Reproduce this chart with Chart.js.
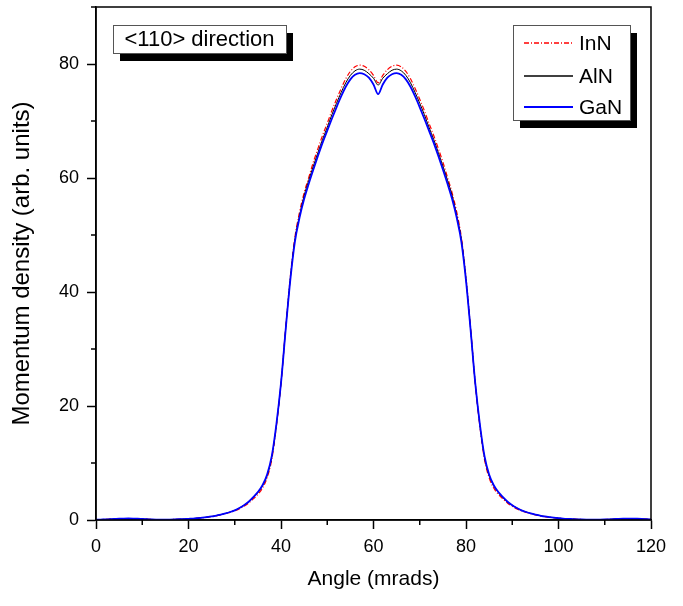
<!DOCTYPE html>
<html>
<head>
<meta charset="utf-8">
<script src="https://cdn.jsdelivr.net/npm/chart.js@4.4.1/dist/chart.umd.min.js"></script>
<style>
html,body{margin:0;padding:0;background:#fff;}
canvas{display:block;}
</style>
</head>
<body>
<canvas id="c" width="683" height="606"></canvas>
<script>
// ---- data ----
const angles = [0,1,2,3,4,5,6,7,8,9,10,11,12,13,14,15,16,17,18,19,20,21,22,23,24,25,26,27,28,29,30,31,32,33,34,35,36,37,38,39,40,41,42,43,44,45,46,47,48,49,50,51,52,53,54,55,56,57,58,59,60,61,62,63,64,65,66,67,68,69,70,71,72,73,74,75,76,77,78,79,80,81,82,83,84,85,86,87,88,89,90,91,92,93,94,95,96,97,98,99,100,101,102,103,104,105,106,107,108,109,110,111,112,113,114,115,116,117,118,119,120];

const inN = [0.05,0.08,0.1,0.14,0.18,0.22,0.25,0.26,0.25,0.22,
0.18,0.14,0.1,0.08,0.07,0.07,0.08,0.1,0.13,0.17,
0.21,0.25,0.32,0.4,0.5,0.6,0.73,0.9,1.1,1.35,
1.6,1.95,2.4,2.95,3.7,4.5,5.6,7.4,10.6,16.4,
24.0,33.6,42.6,49.6,54.0,57.4,60.1,62.8,65.2,67.5,
69.6,71.8,73.8,75.7,77.4,78.7,79.5,79.8,79.6,79.0,
78.0,76.7,78.0,79.0,79.6,79.8,79.5,78.7,77.4,75.7,
73.8,71.8,69.6,67.5,65.2,62.8,60.1,57.4,54.0,49.6,
42.6,33.6,24.0,16.4,10.6,7.4,5.6,4.5,3.7,2.95,
2.4,1.95,1.6,1.35,1.1,0.9,0.73,0.6,0.5,0.4,
0.32,0.25,0.2,0.16,0.12,0.09,0.07,0.06,0.06,0.07,
0.09,0.12,0.16,0.2,0.23,0.25,0.25,0.23,0.19,0.14,
0.1];

const alN = [0.05,0.08,0.1,0.14,0.18,0.22,0.25,0.26,0.25,0.22,
0.18,0.14,0.1,0.08,0.07,0.07,0.08,0.1,0.13,0.17,
0.21,0.25,0.32,0.4,0.5,0.62,0.78,0.95,1.15,1.4,
1.7,2.1,2.6,3.1,3.9,4.8,6.0,7.8,11.0,16.6,
24.0,33.45,42.3,49.2,53.4,56.9,59.6,62.1,64.5,66.8,
68.9,71.1,73.1,75.0,76.7,78.0,78.8,79.1,78.9,78.3,
77.5,76.3,77.5,78.3,78.9,79.1,78.8,78.0,76.7,75.0,
73.1,71.1,68.9,66.8,64.5,62.1,59.6,56.9,53.4,49.2,
42.3,33.45,24.0,16.6,11.0,7.8,6.0,4.8,3.9,3.1,
2.6,2.1,1.7,1.4,1.15,0.95,0.78,0.62,0.5,0.4,
0.32,0.25,0.2,0.16,0.12,0.09,0.07,0.06,0.06,0.07,
0.09,0.12,0.16,0.2,0.23,0.25,0.25,0.23,0.19,0.14,
0.1];

const gaN = [0.05,0.08,0.1,0.14,0.18,0.22,0.25,0.26,0.25,0.22,
0.18,0.14,0.1,0.08,0.07,0.07,0.08,0.1,0.13,0.17,
0.21,0.25,0.32,0.4,0.5,0.62,0.78,0.95,1.15,1.4,
1.7,2.1,2.6,3.2,4.0,4.9,6.1,8.0,11.2,16.8,
24.0,33.3,42.0,48.8,53.0,56.3,59.0,61.5,63.9,66.2,
68.3,70.4,72.4,74.3,76.0,77.3,78.1,78.4,78.2,77.6,
76.4,74.7,76.4,77.6,78.2,78.4,78.1,77.3,76.0,74.3,
72.4,70.4,68.3,66.2,63.9,61.5,59.0,56.3,53.0,48.8,
42.0,33.3,24.0,16.8,11.2,8.0,6.1,4.9,4.0,3.2,
2.6,2.1,1.7,1.4,1.15,0.95,0.78,0.62,0.5,0.4,
0.32,0.25,0.2,0.16,0.12,0.09,0.07,0.06,0.06,0.07,
0.09,0.12,0.16,0.2,0.23,0.25,0.25,0.23,0.19,0.14,
0.1];

const seriesNames = ['InN', 'AlN', 'GaN'];
const xTitle = 'Angle (mrads)';
const yTitle = 'Momentum density (arb. units)';
const boxLabel = '<110> direction';
const xMinorTicks = [10, 30, 50, 70, 90, 110];
const yMinorTicks = [10, 30, 50, 70, 90];

// ---- chart ----
const FONT = "'Liberation Sans', Arial, Helvetica, sans-serif";
Chart.defaults.font.family = FONT;
Chart.defaults.color = '#000';

const toPts = arr => angles.map((a, i) => ({x: a, y: arr[i]}));

const decor = {
  id: 'decor',
  afterDatasetsDraw(chart) {
    const {ctx, chartArea: ca, scales} = chart;
    ctx.save();
    ctx.strokeStyle = '#000';
    ctx.lineWidth = 1.5;
    ctx.strokeRect(ca.left, ca.top, ca.right - ca.left, ca.bottom - ca.top);
    ctx.beginPath();
    xMinorTicks.forEach(v => {
      const p = scales.x.getPixelForValue(v);
      ctx.moveTo(p, ca.bottom); ctx.lineTo(p, ca.bottom + 5);
    });
    yMinorTicks.forEach(v => {
      const p = scales.y.getPixelForValue(v);
      ctx.moveTo(ca.left - 5, p); ctx.lineTo(ca.left, p);
    });
    ctx.stroke();
    ctx.restore();
  },
  afterDraw(chart) {
    const ctx = chart.ctx;
    ctx.save();
    // direction box
    const bx = 113, by = 25, bw = 173, bh = 28;
    ctx.fillStyle = '#000';
    ctx.fillRect(bx + 7, by + 8, bw, bh);
    ctx.fillStyle = '#fff';
    ctx.fillRect(bx, by, bw, bh);
    ctx.strokeStyle = '#555';
    ctx.lineWidth = 1;
    ctx.strokeRect(bx + 0.5, by + 0.5, bw, bh);
    ctx.fillStyle = '#000';
    ctx.font = '22px ' + FONT;
    ctx.textAlign = 'center';
    ctx.textBaseline = 'middle';
    ctx.fillText(boxLabel, bx + bw / 2, by + bh / 2 + 1);

    // legend box
    const lx = 513, ly = 25, lw = 117, lh = 95;
    ctx.fillStyle = '#000';
    ctx.fillRect(lx + 7, ly + 8, lw, lh);
    ctx.fillStyle = '#fff';
    ctx.fillRect(lx, ly, lw, lh);
    ctx.strokeStyle = '#555';
    ctx.strokeRect(lx + 0.5, ly + 0.5, lw, lh);
    const rows = [43, 76, 107];
    chart.data.datasets.forEach((ds, i) => {
      const y = rows[i];
      ctx.save();
      ctx.strokeStyle = ds.borderColor;
      ctx.lineWidth = Math.max(ds.borderWidth, 1.4);
      ctx.setLineDash(ds.borderDash || []);
      ctx.beginPath();
      ctx.moveTo(524, y); ctx.lineTo(573, y);
      ctx.stroke();
      ctx.restore();
      ctx.fillStyle = '#000';
      ctx.font = '21px ' + FONT;
      ctx.textAlign = 'left';
      ctx.textBaseline = 'middle';
      ctx.fillText(ds.label, 579, y + 1);
    });
    ctx.restore();
  }
};

const majorColor = c => (c.tick && c.tick.value % 20 === 0) ? '#000' : 'rgba(0,0,0,0)';

new Chart(document.getElementById('c'), {
  type: 'line',
  data: {
    datasets: [
      {label: seriesNames[0], data: toPts(inN), borderColor: '#ff0000', borderWidth: 1.2, borderDash: [5, 2, 1, 2], order: 3},
      {label: seriesNames[1], data: toPts(alN), borderColor: '#000000', borderWidth: 1, order: 2},
      {label: seriesNames[2], data: toPts(gaN), borderColor: '#0000ff', borderWidth: 1.8, order: 1}
    ]
  },
  options: {
    responsive: false,
    animation: false,
    devicePixelRatio: 1,
    layout: {padding: {left: 4, right: 32, top: 7, bottom: 10}},
    elements: {point: {radius: 0}, line: {cubicInterpolationMode: 'monotone', fill: false}},
    plugins: {legend: {display: false}, tooltip: {enabled: false}},
    scales: {
      x: {
        type: 'linear', min: 0, max: 120,
        ticks: {stepSize: 10, autoSkip: false, maxRotation: 0, padding: 7,
          font: {size: 18}, color: '#000',
          callback: v => (v % 20 === 0 ? String(v) : '')},
        grid: {drawOnChartArea: false, tickLength: 9, tickWidth: 1.5, tickColor: majorColor},
        border: {color: '#000', width: 1.5},
        title: {display: true, text: xTitle, font: {size: 21}, color: '#000', padding: {top: 0, bottom: 4}},
        afterFit: s => { s.height = 76; s.paddingLeft = 0; s.paddingRight = 0; }
      },
      y: {
        type: 'linear', min: 0, max: 90,
        ticks: {stepSize: 10, autoSkip: false, padding: 8,
          font: {size: 18}, color: '#000',
          callback: v => (v % 20 === 0 ? String(v) : '')},
        grid: {drawOnChartArea: false, tickLength: 9, tickWidth: 1.5, tickColor: majorColor},
        border: {color: '#000', width: 1.5},
        title: {display: true, text: yTitle, font: {size: 24}, color: '#000', padding: {top: 4, bottom: 0}},
        afterFit: s => { s.width = 92; s.paddingTop = 0; s.paddingBottom = 0; }
      }
    }
  },
  plugins: [decor]
});
</script>
</body>
</html>
